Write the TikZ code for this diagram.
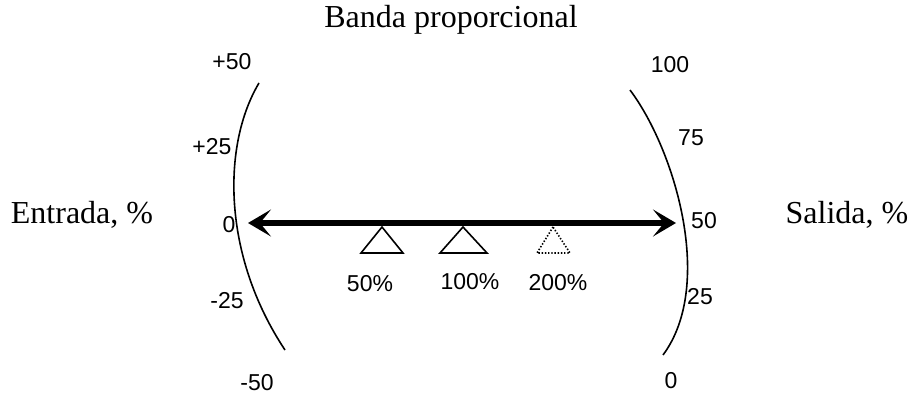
\documentclass[tikz,border=0pt]{standalone}
\usepackage{fontspec}
\setmainfont{Liberation Serif}
\newfontfamily\arial{Liberation Sans}
\usetikzlibrary{arrows.meta}
\tikzset{
  rotulo/.style={font=\fontsize{16}{19}\selectfont, inner sep=0pt, anchor=base},
  cifra/.style={font=\arial\fontsize{11.5}{14}\selectfont, inner sep=0pt},
  arco/.style={line width=0.8pt},
  flecha/.style={line width=2.6pt, {Stealth[length=11.5pt,width=13.5pt,inset=5.5pt]}-{Stealth[length=11.5pt,width=13.5pt,inset=5.5pt]}},
  triang/.style={line width=0.8pt, line join=miter}
}
\begin{document}
\begin{tikzpicture}[x=0.5pt,y=-0.5pt]
  \useasboundingbox (0,0) rectangle (910,396);

  \node[rotulo] (titulo) at (451,27) {Banda proporcional};
  \node[rotulo] (entrada) at (82,223) {Entrada, \%};
  \node[rotulo] (salida) at (847,223) {Salida, \%};

  \coordinate (I1) at (259,83); \coordinate (I2) at (285,350);
  \draw[arco] (I1) .. controls (222,145) and (222,255) .. (I2);
  \node[cifra] (i50) at (232,62) {+50};
  \node[cifra] (i25) at (212,147) {+25};
  \node[cifra] (i0) at (229,225) {0};
  \node[cifra] (im25) at (227,301) {-25};
  \node[cifra] (im50) at (257,383) {-50};

  \coordinate (D1) at (630,90); \coordinate (D2) at (663,355);
  \draw[arco] (D1) .. controls (675,150) and (715,285) .. (D2);
  \node[cifra] (d100) at (670,65) {100};
  \node[cifra] (d75) at (691,138) {75};
  \node[cifra] (d50) at (704,221) {50};
  \node[cifra] (d25) at (700,297) {25};
  \node[cifra] (d0) at (671,381) {0};

  \coordinate (E) at (248,223); \coordinate (S) at (676,223);
  \draw[flecha] (E) -- (S);

  \coordinate (A1) at (382,227); \coordinate (B1) at (361,253); \coordinate (C1) at (403,253);
  \draw[triang] (A1) -- (B1) -- (C1) -- cycle;
  \node[cifra] (p50) at (370,284) {50\%};

  \coordinate (A2) at (463,227); \coordinate (B2) at (440,253); \coordinate (C2) at (487,253);
  \draw[triang] (A2) -- (B2) -- (C2) -- cycle;
  \node[cifra] (p100) at (470,282) {100\%};

  \coordinate (A3) at (553,227); \coordinate (B3) at (537,253); \coordinate (C3) at (570,253);
  \draw[triang, dash pattern=on 0.7pt off 0.9pt] (A3) -- (B3) -- (C3) -- cycle;
  \node[cifra] (p200) at (558,283) {200\%};

\end{tikzpicture}
\end{document}
